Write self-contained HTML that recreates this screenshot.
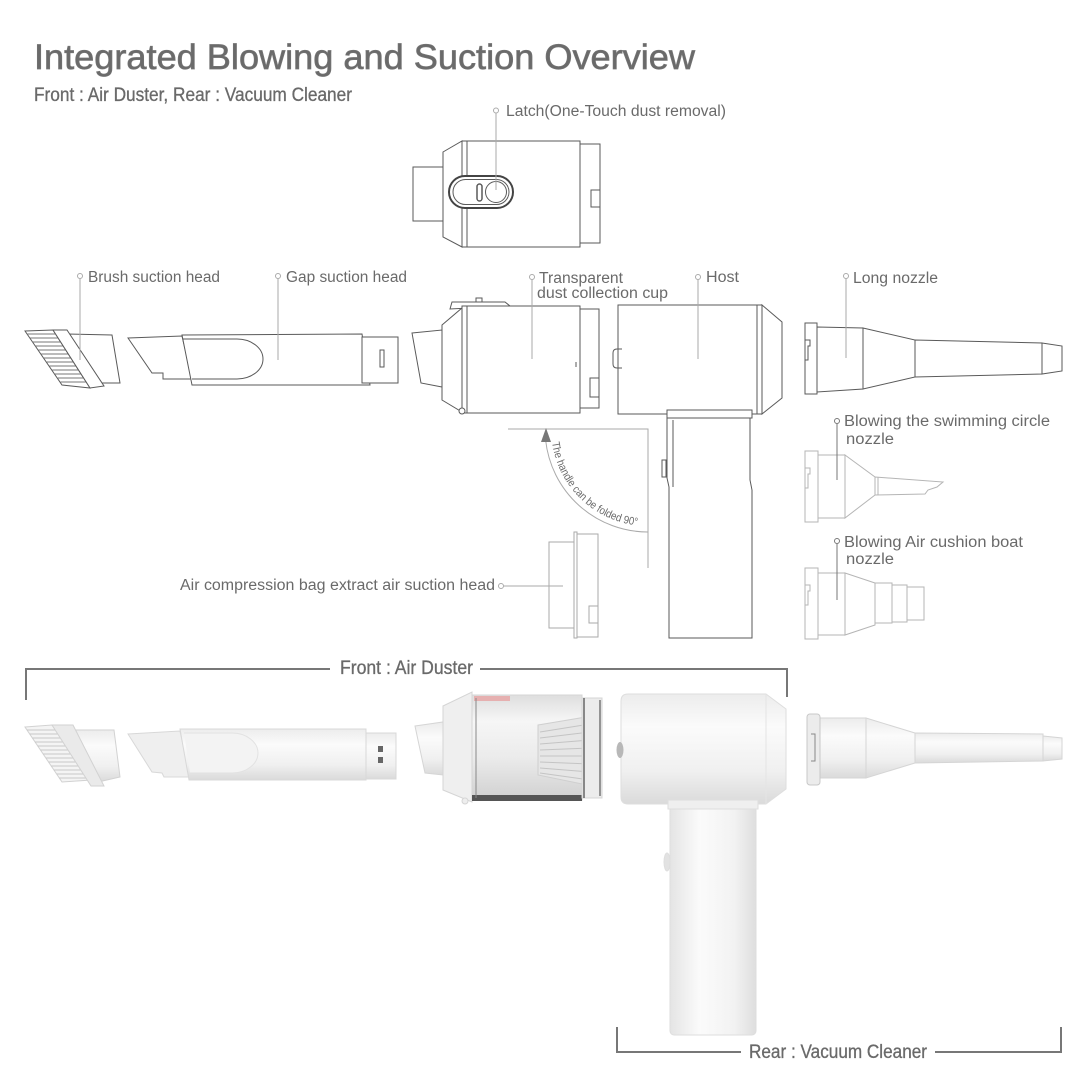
<!DOCTYPE html>
<html><head><meta charset="utf-8"><style>
html,body{margin:0;padding:0;background:#fff;}
svg{display:block;}
text{font-family:"Liberation Sans",sans-serif;fill:#6a6a6a;}
</style></head><body>
<svg width="1090" height="1090" viewBox="0 0 1090 1090" xmlns="http://www.w3.org/2000/svg">
<defs>
<linearGradient id="cylV" x1="0" y1="0" x2="0" y2="1">
<stop offset="0" stop-color="#ececec"/><stop offset="0.3" stop-color="#fbfbfb"/><stop offset="0.7" stop-color="#f0f0f0"/><stop offset="1" stop-color="#dadada"/>
</linearGradient>
<linearGradient id="cylH" x1="0" y1="0" x2="1" y2="0">
<stop offset="0" stop-color="#e4e4e4"/><stop offset="0.35" stop-color="#fbfbfb"/><stop offset="0.75" stop-color="#f2f2f2"/><stop offset="1" stop-color="#dedede"/>
</linearGradient>
<linearGradient id="cupG" x1="0" y1="0" x2="0" y2="1">
<stop offset="0" stop-color="#dedede"/><stop offset="0.25" stop-color="#f6f6f6"/><stop offset="0.6" stop-color="#ebebeb"/><stop offset="1" stop-color="#d0d0d0"/>
</linearGradient>
<path id="arcT" d="M552,442.5 A97,97 0 0 0 642.9,525.9"/>
</defs>
<rect width="1090" height="1090" fill="#fff"/>

<!-- Titles -->
<text x="34" y="69" font-size="35" textLength="661" lengthAdjust="spacingAndGlyphs" fill="#747474" stroke="#747474" stroke-width="0.7">Integrated Blowing and Suction Overview</text>
<text x="34" y="101" font-size="19" textLength="318" lengthAdjust="spacingAndGlyphs" fill="#666" stroke="#666" stroke-width="0.3">Front : Air Duster, Rear : Vacuum Cleaner</text>

<!-- Labels -->
<g font-size="15.5">
<text x="506" y="116" textLength="220" lengthAdjust="spacingAndGlyphs">Latch(One-Touch dust removal)</text>
<text x="88" y="282" textLength="132" lengthAdjust="spacingAndGlyphs">Brush suction head</text>
<text x="286" y="282" textLength="121" lengthAdjust="spacingAndGlyphs">Gap suction head</text>
<text x="539" y="283" textLength="84" lengthAdjust="spacingAndGlyphs">Transparent</text>
<text x="537" y="298" textLength="131" lengthAdjust="spacingAndGlyphs">dust collection cup</text>
<text x="706" y="282" textLength="33" lengthAdjust="spacingAndGlyphs">Host</text>
<text x="853" y="283" textLength="85" lengthAdjust="spacingAndGlyphs">Long nozzle</text>
<text x="844" y="426" textLength="206" lengthAdjust="spacingAndGlyphs">Blowing the swimming circle</text>
<text x="846" y="444" textLength="48" lengthAdjust="spacingAndGlyphs">nozzle</text>
<text x="844" y="547" textLength="179" lengthAdjust="spacingAndGlyphs">Blowing Air cushion boat</text>
<text x="846" y="564" textLength="48" lengthAdjust="spacingAndGlyphs">nozzle</text>
<text x="180" y="590" textLength="315" lengthAdjust="spacingAndGlyphs">Air compression bag extract air suction head</text>
</g>

<!-- Latch part -->
<g stroke="#5a5a5a" stroke-width="1" fill="#fff">
<rect x="413" y="167" width="30" height="54"/>
<polygon points="443,152 462,141 462,247 443,237"/>
<rect x="462" y="141" width="118" height="106"/>
<line x1="467" y1="141" x2="467" y2="247"/>
<rect x="580" y="144" width="20" height="99"/>
<path d="M600,190 H591 V207 H600" fill="none"/>
<rect x="449" y="176" width="64" height="32" rx="16" stroke="#444" stroke-width="2"/>
<rect x="453" y="179.5" width="56" height="25" rx="12.5"/>
<rect x="477" y="184" width="5" height="17" rx="2.5" stroke-width="1.5"/>
<circle cx="496" cy="192" r="10.5"/>
</g>

<!-- Brush line art -->
<g stroke="#5a5a5a" stroke-width="1" fill="#fff">
<polygon points="25,331 53,330 90,388 62,385"/>
<g stroke="#777">
<line x1="27.1" y1="334" x2="55.6" y2="334"/><line x1="29.9" y1="338" x2="58.1" y2="338"/>
<line x1="32.7" y1="342" x2="60.7" y2="342"/><line x1="35.5" y1="346" x2="63.2" y2="346"/>
<line x1="38.3" y1="350" x2="65.8" y2="350"/><line x1="41.1" y1="354" x2="68.3" y2="354"/>
<line x1="43.9" y1="358" x2="70.9" y2="358"/><line x1="46.7" y1="362" x2="73.4" y2="362"/>
<line x1="49.5" y1="366" x2="76" y2="366"/><line x1="52.2" y1="370" x2="78.5" y2="370"/>
<line x1="55" y1="374" x2="81" y2="374"/><line x1="57.8" y1="378" x2="83.6" y2="378"/>
<line x1="60.6" y1="382" x2="86.1" y2="382"/>
</g>
<polygon points="67,334 112,335 120,383 102,383"/>
<polygon points="53,330 67,330 104,386 90,388"/>
</g>

<!-- Gap line art -->
<g stroke="#5a5a5a" stroke-width="1" fill="#fff">
<polygon points="128,338 182,336 192,379 163,379 163,373 152,373"/>
<polygon points="182,335 362,334 370,385 192,385"/>
<path d="M183,339 L237,339 A26,20 0 0 1 237,379 L192,379" fill="none"/>
<rect x="362" y="337" width="36" height="46"/>
<rect x="380" y="350" width="4" height="17"/>
</g>

<!-- Dust cup line art -->
<g stroke="#5a5a5a" stroke-width="1" fill="#fff">
<polygon points="412,333 442,330 442,387 421,383"/>
<polygon points="450,309 452,302 505,302 510,306"/>
<rect x="476" y="298" width="6" height="4"/>
<polygon points="442,325 462,308 462,412 442,400"/>
<rect x="462" y="306" width="118" height="107"/>
<line x1="467" y1="306" x2="467" y2="413"/>
<rect x="580" y="309" width="19" height="99"/>
<path d="M599,378 H590 V397 H599" fill="none"/>
<line x1="576" y1="362" x2="576" y2="367"/>
<circle cx="462" cy="411" r="3"/>
</g>

<!-- Host line art -->
<g stroke="#5a5a5a" stroke-width="1" fill="#fff">
<rect x="618" y="305" width="144" height="109"/>
<line x1="757" y1="305" x2="757" y2="414"/>
<polygon points="762,305 782,322 782,398 762,414"/>
<path d="M622,349 H617 Q613,349 613,353 V364 Q613,368 617,368 H622" fill="none"/>
<path d="M667,418 V478 L669,487 V638 H752 V490 L750,480 V418 Z"/>
<rect x="667" y="410" width="85" height="8"/>
<line x1="673" y1="420" x2="673" y2="487"/>
<rect x="662" y="460" width="4" height="17"/>
</g>

<!-- Fold indicator -->
<path d="M508,429 H648 V568" fill="none" stroke="#aaa" stroke-width="1"/>
<path d="M648,532 A103,103 0 0 1 545.6,440" fill="none" stroke="#aaa" stroke-width="1"/>
<polygon points="546,428 541,442 551,442" fill="#777"/>
<text font-size="11" fill="#777"><textPath href="#arcT" textLength="128" lengthAdjust="spacingAndGlyphs">The handle can be folded 90°</textPath></text>

<!-- Air compression head -->
<g stroke="#aaa" stroke-width="1" fill="#fff">
<rect x="549" y="542" width="25" height="86"/>
<rect x="574" y="532" width="3" height="106"/>
<rect x="577" y="534" width="21" height="103"/>
<path d="M598,606 H589 V623 H598" fill="none"/>
</g>

<!-- Long nozzle line art -->
<g stroke="#5a5a5a" stroke-width="1" fill="#fff">
<rect x="805" y="323" width="12" height="71"/>
<path d="M805,340 H810 V346 H808 V360 H805" fill="none"/>
<polygon points="817,327 863,328 863,389 817,392"/>
<polygon points="863,328 915,340 915,377 863,389"/>
<polygon points="915,340 1042,343 1042,374 915,377"/>
<polygon points="1042,343 1062,346 1062,371 1042,374"/>
</g>

<!-- Swimming circle nozzle -->
<g stroke="#b5b5b5" stroke-width="1" fill="#fff">
<rect x="805" y="451" width="13" height="71"/>
<path d="M805,468 H810 V474 H808 V488 H805" fill="none"/>
<rect x="818" y="455" width="27" height="63"/>
<polygon points="845,455 875,477 875,495 845,518"/>
<polygon points="875,477 943,482 937,487 928,490 925,494 875,495"/>
<line x1="878" y1="477" x2="878" y2="495"/>
</g>

<!-- Air cushion nozzle -->
<g stroke="#b5b5b5" stroke-width="1" fill="#fff">
<rect x="805" y="568" width="13" height="71"/>
<path d="M805,585 H810 V591 H808 V605 H805" fill="none"/>
<rect x="818" y="573" width="27" height="62"/>
<polygon points="845,573 875,583 875,625 845,635"/>
<rect x="875" y="583" width="17" height="40"/>
<rect x="892" y="585" width="15" height="37"/>
<rect x="907" y="587" width="17" height="33"/>
</g>

<!-- Leader lines -->
<g stroke="#aaa" stroke-width="1" fill="#fff">
<line x1="496" y1="113" x2="496" y2="190"/>
<line x1="80" y1="279" x2="80" y2="360"/>
<line x1="278" y1="279" x2="278" y2="360"/>
<line x1="532" y1="280" x2="532" y2="359"/>
<line x1="698" y1="280" x2="698" y2="359"/>
<line x1="846" y1="279" x2="846" y2="358"/>
<line x1="504" y1="586" x2="563" y2="586"/>
<line x1="837" y1="424" x2="837" y2="480" stroke="#777"/>
<line x1="837" y1="544" x2="837" y2="600" stroke="#777"/>
<circle cx="496" cy="110.5" r="2.5"/>
<circle cx="80" cy="276" r="2.5"/>
<circle cx="278" cy="276" r="2.5"/>
<circle cx="532" cy="277" r="2.5"/>
<circle cx="698" cy="277" r="2.5"/>
<circle cx="846" cy="276" r="2.5"/>
<circle cx="837" cy="421" r="2.5" stroke="#777"/>
<circle cx="837" cy="541" r="2.5" stroke="#777"/>
<circle cx="501" cy="586" r="2.5"/>
</g>

<!-- Brackets -->
<g stroke="#777" stroke-width="2" fill="none">
<path d="M26,700 V669 H330"/>
<path d="M480,669 H787 V697"/>
<path d="M617,1027 V1052 H741"/>
<path d="M935,1052 H1061 V1027"/>
</g>
<text x="340" y="674" font-size="19" textLength="133" lengthAdjust="spacingAndGlyphs" fill="#666" stroke="#666" stroke-width="0.3">Front : Air Duster</text>
<text x="749" y="1058" font-size="19" textLength="178" lengthAdjust="spacingAndGlyphs" fill="#666" stroke="#666" stroke-width="0.3">Rear : Vacuum Cleaner</text>

<!-- Photo: brush -->
<g stroke="#d2d2d2" stroke-width="1">
<polygon points="25,727 52,725 91,780 62,782" fill="#f4f4f4"/>
<g stroke="#c8c8c8">
<line x1="27" y1="730" x2="55.5" y2="730"/><line x1="29.7" y1="734" x2="58.4" y2="734"/>
<line x1="32.4" y1="738" x2="61.2" y2="738"/><line x1="35" y1="742" x2="64.1" y2="742"/>
<line x1="37.7" y1="746" x2="66.9" y2="746"/><line x1="40.4" y1="750" x2="69.7" y2="750"/>
<line x1="43.1" y1="754" x2="72.6" y2="754"/><line x1="45.8" y1="758" x2="75.4" y2="758"/>
<line x1="48.5" y1="762" x2="78.2" y2="762"/><line x1="51.2" y1="766" x2="81.1" y2="766"/>
<line x1="53.9" y1="770" x2="83.9" y2="770"/><line x1="56.6" y1="774" x2="86.7" y2="774"/>
<line x1="59.2" y1="778" x2="89.6" y2="778"/>
</g>
<polygon points="73,730 114,730 120,777 98,782" fill="url(#cylV)"/>
<polygon points="52,725 73,725 104,786 91,786" fill="#eaeaea"/>
</g>

<!-- Photo: gap head -->
<g stroke="#d8d8d8" stroke-width="1">
<polygon points="128,734 180,731 190,777 164,777 162,773 152,772" fill="#efefef"/>
<polygon points="180,729 366,729 366,780 189,780" fill="url(#cylV)"/>
<path d="M184,733 L232,733 A26,20 0 0 1 232,773 L190,773" fill="#f3f3f3" stroke="#e2e2e2"/>
<rect x="366" y="733" width="30" height="46" fill="url(#cylV)"/>
<rect x="378" y="746" width="5" height="6" fill="#666" stroke="none"/>
<rect x="378" y="757" width="5" height="6" fill="#666" stroke="none"/>
</g>

<!-- Photo: dust cup -->
<g stroke="#d5d5d5" stroke-width="1">
<polygon points="415,726 443,722 443,775 425,773" fill="url(#cylV)"/>
<polygon points="443,706 472,692 472,802 443,790" fill="#efefef"/>
<rect x="472" y="695" width="110" height="105" fill="url(#cupG)"/>
<rect x="472" y="795" width="110" height="6" fill="#555" stroke="none"/>
<rect x="474" y="696" width="36" height="5" fill="#e6b0b0" stroke="none"/>
<line x1="476" y1="698" x2="476" y2="798" stroke="#888"/>
<polygon points="538,725 592,716 592,786 538,775" fill="#e6e6e6" stroke="#cfcfcf"/>
<g stroke="#c4c4c4">
<line x1="540" y1="732" x2="590" y2="724"/><line x1="540" y1="738" x2="590" y2="732"/>
<line x1="540" y1="744" x2="590" y2="740"/><line x1="540" y1="750" x2="590" y2="748"/>
<line x1="540" y1="756" x2="590" y2="756"/><line x1="540" y1="762" x2="590" y2="764"/>
<line x1="540" y1="768" x2="590" y2="772"/><line x1="540" y1="773" x2="590" y2="780"/>
</g>
<rect x="582" y="698" width="20" height="100" fill="#ececec"/>
<line x1="584" y1="698" x2="584" y2="798" stroke="#666" stroke-width="1.5"/>
<line x1="600" y1="700" x2="600" y2="796" stroke="#777" stroke-width="1.5"/>
<circle cx="465" cy="801" r="3" fill="#eee"/>
</g>

<!-- Photo: host -->
<g stroke="#dedede" stroke-width="1">
<path d="M628,694 H766 L786,709 V789 L766,804 H628 Q621,804 621,797 V701 Q621,694 628,694 Z" fill="url(#cylV)"/>
<line x1="766" y1="694" x2="766" y2="804" stroke="#e4e4e4"/>
<ellipse cx="620" cy="750" rx="3.5" ry="8" fill="#b8b8b8" stroke="none"/>
<rect x="670" y="806" width="86" height="229" rx="4" fill="url(#cylH)"/>
<rect x="668" y="800" width="90" height="9" fill="#efefef"/>
<ellipse cx="667" cy="862" rx="3" ry="9" fill="#e2e2e2"/>
</g>

<!-- Photo: long nozzle -->
<g stroke="#d5d5d5" stroke-width="1">
<polygon points="820,718 866,718 866,778 820,778" fill="url(#cylV)"/>
<polygon points="866,718 915,733 915,763 866,778" fill="url(#cylV)"/>
<polygon points="915,733 1043,734 1043,761 915,763" fill="url(#cylV)"/>
<polygon points="1043,736 1062,738 1062,759 1043,761" fill="url(#cylV)"/>
<rect x="807" y="714" width="13" height="71" rx="3" fill="#ececec" stroke="#c8c8c8"/>
<path d="M811,734 H815 V761 H811" fill="none" stroke="#888"/>
</g>
</svg>
</body></html>
